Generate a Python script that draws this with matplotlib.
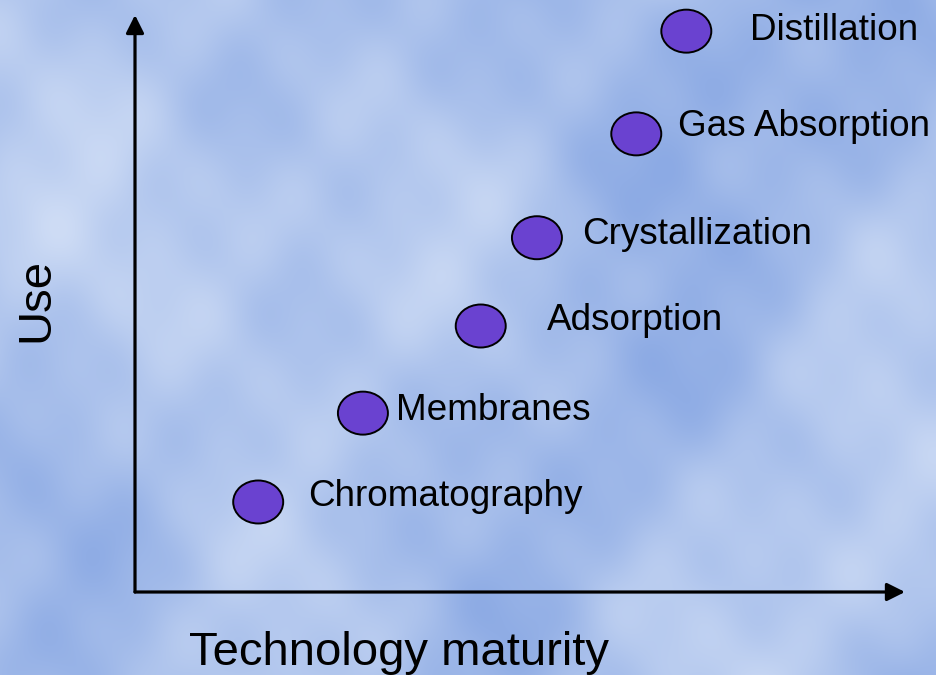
import numpy as np
import matplotlib.pyplot as plt
from matplotlib.patches import Ellipse

# separation technologies: maturity (x) vs use (y), 0-10 scale
tecnicas = ["Chromatography", "Membranes", "Adsorption",
            "Crystallization", "Gas Absorption", "Distillation"]
maturidade = [1.60, 2.96, 4.49, 5.22, 6.51, 7.16]
uso = [1.56, 3.10, 4.61, 6.14, 7.94, 9.72]

# where each label starts (left edge) and its vertical centre
rotulo_x = [2.25, 3.39, 5.35, 5.81, 7.05, 7.99]
rotulo_y = [1.65, 3.14, 4.70, 6.19, 8.06, 9.74]

W, H = 936, 675
fig = plt.figure(figsize=(W / 100, H / 100), dpi=100)

# fundo "nuvens" azul
fundo = fig.add_axes([0, 0, 1, 1], zorder=-1)
yy, xx = np.mgrid[0:H, 0:W] / 100.0
campo = (0.35 * np.sin(1.3 * xx + 0.7 * yy) + 0.30 * np.sin(0.9 * yy - 1.7 * xx + 1.0)
         + 0.20 * np.sin(2.9 * xx + 2.1 * yy + 2.0) + 0.15 * np.sin(3.7 * yy - 2.3 * xx)
         + 0.10 * np.sin(6.1 * xx + 4.3 * yy + 0.5) + 0.08 * np.sin(5.3 * yy - 7.1 * xx))
campo += 0.9 * np.exp(-((xx - 2.2) ** 2 + (yy - 2.4) ** 2) / 3.0)
campo += 0.5 * np.exp(-((xx - 8.5) ** 2 + (yy - 5.8) ** 2) / 2.0)
campo -= 0.7 * np.exp(-((xx - 7.0) ** 2 + (yy - 0.8) ** 2) / 2.5)
campo -= 0.4 * np.exp(-((xx - 5.5) ** 2 + (yy - 4.2) ** 2) / 1.5)
campo = (campo - campo.min()) / (campo.max() - campo.min())
escuro = np.array([140, 170, 228]) / 255
claro = np.array([206, 220, 245]) / 255
img = escuro + campo[..., None] * (claro - escuro)
fundo.imshow(img, aspect="auto", interpolation="bilinear")
fundo.axis("off")

# eixo principal: origem no canto dos eixos desenhados
esq, base, dir_, topo = 135, 592, 905, 15
ax = fig.add_axes([esq / W, (H - base) / H, (dir_ - esq) / W, (base - topo) / H])
ax.set_xlim(0, 10)
ax.set_ylim(0, 10)
ax.patch.set_alpha(0)
for s in ax.spines.values():
    s.set_visible(False)
ax.set_xticks([])
ax.set_yticks([])

seta = dict(arrowstyle="-|>", lw=2.3, color="black", mutation_scale=27,
            shrinkA=0, shrinkB=0)
ax.annotate("", xy=(1, 0), xytext=(0, 0), xycoords="axes fraction", arrowprops=seta)
ax.annotate("", xy=(0, 1), xytext=(0, 0), xycoords="axes fraction", arrowprops=seta)

# elipses ~50x43 px
larg = 50 / (dir_ - esq) * 10
alt = 43 / (base - topo) * 10
for x, y in zip(maturidade, uso):
    ax.add_patch(Ellipse((x, y), larg, alt, facecolor="#6a42d0",
                         edgecolor="black", lw=1.4, clip_on=False, zorder=3))

for nome, x, y in zip(tecnicas, rotulo_x, rotulo_y):
    ax.text(x, y, nome, fontsize=26.6, family=["Liberation Sans", "DejaVu Sans"],
            ha="left", va="center", color="black")

fig.text(399 / W, 1 - 653 / H, "Technology maturity", fontsize=34,
         family=["Liberation Sans", "DejaVu Sans"], ha="center", va="center")
fig.text(36 / W, 1 - 300 / H, "Use", fontsize=34, rotation=90,
         family=["Liberation Sans", "DejaVu Sans"], ha="center", va="center")

fig.savefig("out.png", dpi=100)
